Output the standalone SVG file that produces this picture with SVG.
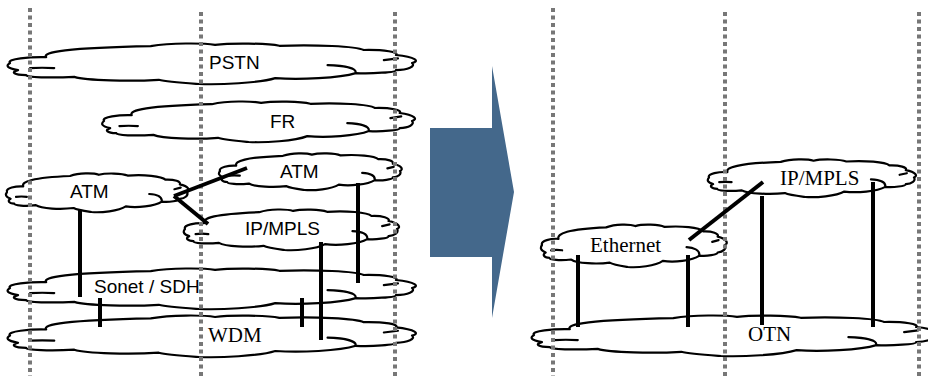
<svg xmlns="http://www.w3.org/2000/svg" xmlns:xlink="http://www.w3.org/1999/xlink" width="928" height="376" viewBox="0 0 928 376">
<style>
.cloud{fill:#fff;stroke:#000;stroke-width:2.2;stroke-linejoin:round}
.inner{fill:none;stroke:#000;stroke-width:2.2;stroke-linecap:round}
.sans{font-family:"Liberation Sans",Arial,sans-serif;font-size:19px;fill:#000}
.serif{font-family:"Liberation Serif","Times New Roman",serif;font-size:21px;fill:#000}
.grid{stroke:#777;stroke-width:4;stroke-dasharray:4 3.5;fill:none}
.link{stroke:#000;stroke-width:4;fill:none}
</style>
<defs>
<g id="cloud">
<path class="cloud" vector-effect="non-scaling-stroke" d="M0,50 C-1,40 5,35 9,36 C8,24 14,14 35,10 C40,2 48,2 51,7 C55,2 64,3 67,9 C76,6 86,10 88,19 C93,18 97,24 96,31 C101,36 102,46 100,50 C101,58 99,66 96,67 C96,72 90,76 86,74 C82,86 72,90 66,86 C62,98 52,102 47,100 C44,98 39,95 37,90 C30,94 19,92 16,83 C10,86 4,84 4,79 C1,78 0,72 2,67 C-1,62 -1,56 0,50 Z"/>
<path class="inner" vector-effect="non-scaling-stroke" d="M5,62 C7,61 9,61 11,62 M79,55 C83,56 86,62 86,72 M93,43 L96.5,39"/>
</g>
</defs>
<g id="arrow"><polygon points="430,128 492,128 492,66 514,192 492,318 492,257 430,257" fill="#44688B"/></g>
<g id="pstn"><use xlink:href="#cloud" transform="translate(10,42) scale(4.02,0.42)"/><text class="sans" x="209" y="69">PSTN</text></g>
<g id="fr"><use xlink:href="#cloud" transform="translate(104,100) scale(3.08,0.42)"/><text class="sans" x="270" y="128">FR</text></g>
<g id="atm-right"><use xlink:href="#cloud" transform="translate(220,152) scale(1.8,0.38)"/><text class="sans" x="280" y="178">ATM</text></g>
<g id="atm-left"><use xlink:href="#cloud" transform="translate(7,172) scale(1.8,0.40)"/><text class="sans" x="70" y="198">ATM</text></g>
<g id="ipmpls-left"><use xlink:href="#cloud" transform="translate(185,208) scale(2.12,0.42)"/><text class="sans" x="245" y="235" font-size="21">IP/MPLS</text></g>
<g id="sonet"><use xlink:href="#cloud" transform="translate(10,267) scale(4.02,0.42)"/><text class="sans" x="94" y="293">Sonet / SDH</text></g>
<g id="wdm"><use xlink:href="#cloud" transform="translate(10,314) scale(4.02,0.43)"/><text class="serif" x="208" y="342">WDM</text></g>
<g id="ipmpls-right"><use xlink:href="#cloud" transform="translate(709,158) scale(2.05,0.39)"/><text class="serif" x="780" y="185" font-size="23">IP/MPLS</text></g>
<g id="ethernet"><use xlink:href="#cloud" transform="translate(542,223) scale(1.83,0.44)"/><text class="serif" x="590" y="252">Ethernet</text></g>
<g id="otn"><use xlink:href="#cloud" transform="translate(534,314) scale(3.98,0.42)"/><text class="serif" x="748" y="341">OTN</text></g>
<g id="gridlines">
<line class="grid" x1="30" y1="8" x2="30" y2="376"/>
<line class="grid" x1="201" y1="12" x2="201" y2="376"/>
<line class="grid" x1="395" y1="12" x2="395" y2="376"/>
<line class="grid" x1="553" y1="8" x2="553" y2="376"/>
<line class="grid" x1="725" y1="12" x2="725" y2="376"/>
<line class="grid" x1="919" y1="12" x2="919" y2="376"/>
</g>
<g id="connectors">
<line class="link" x1="174" y1="196" x2="247" y2="168"/>
<line class="link" x1="174" y1="196" x2="208" y2="224"/>
<line class="link" x1="80" y1="210" x2="80" y2="297"/>
<line class="link" x1="358" y1="183" x2="358" y2="283"/>
<line class="link" x1="321" y1="242" x2="321" y2="340"/>
<line class="link" x1="100" y1="298" x2="100" y2="327"/>
<line class="link" x1="302" y1="298" x2="302" y2="327"/>
<line class="link" x1="763" y1="182" x2="689" y2="240"/>
<line class="link" x1="762" y1="196" x2="762" y2="325"/>
<line class="link" x1="873" y1="182" x2="873" y2="327"/>
<line class="link" x1="578" y1="255" x2="578" y2="327"/>
<line class="link" x1="688" y1="255" x2="688" y2="327"/>
</g>
</svg>
